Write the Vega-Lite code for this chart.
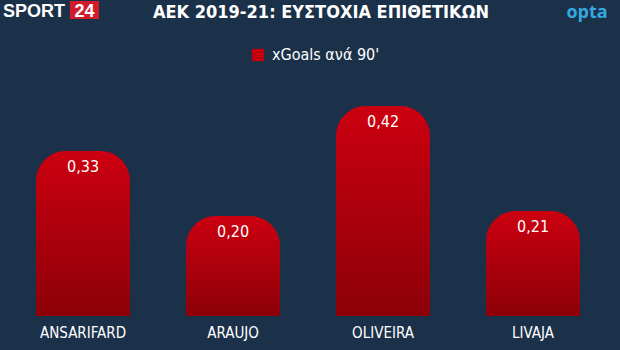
{
  "$schema": "https://vega.github.io/schema/vega-lite/v6.json",
  "width": 620,
  "height": 246,
  "autosize": {"type": "none"},
  "padding": {"left": 0, "right": 0, "top": 70, "bottom": 34},
  "background": "#1b3149",
  "title": {
    "text": "ΑΕΚ 2019-21: ΕΥΣΤΟΧΙΑ ΕΠΙΘΕΤΙΚΩΝ",
    "color": "#ffffff",
    "font": "Liberation Sans Narrow, DejaVu Sans Condensed, Roboto Condensed, sans-serif",
    "fontSize": 18,
    "fontWeight": "bold",
    "anchor": "middle",
    "dx": 11,
    "offset": 0,
    "dy": 21
  },
  "data": {
    "values": [
      {"player": "ANSARIFARD", "xg": 0.33, "label": "0,33"},
      {"player": "ARAUJO", "xg": 0.20, "label": "0,20"},
      {"player": "OLIVEIRA", "xg": 0.42, "label": "0,42"},
      {"player": "LIVAJA", "xg": 0.21, "label": "0,21"}
    ]
  },
  "encoding": {
    "x": {
      "field": "player",
      "type": "nominal",
      "sort": null,
      "scale": {"paddingInner": 0.3733, "paddingOuter": 0.2533, "align": 0.474},
      "axis": {
        "title": null,
        "domain": false,
        "ticks": false,
        "labelAngle": 0,
        "labelColor": "#ffffff",
        "labelFont": "Liberation Sans Narrow, DejaVu Sans Condensed, Roboto Condensed, sans-serif",
        "labelFontSize": 15,
        "labelPadding": 9
      }
    },
    "y": {
      "field": "xg",
      "type": "quantitative",
      "scale": {"domain": [0, 0.492], "nice": false},
      "axis": null
    }
  },
  "layer": [
    {
      "mark": {
        "type": "bar",
        "cornerRadiusTopLeft": 30,
        "cornerRadiusTopRight": 30,
        "color": {
          "gradient": "linear",
          "x1": 0, "y1": 0, "x2": 0, "y2": 1,
          "stops": [
            {"offset": 0, "color": "#cc0010"},
            {"offset": 1, "color": "#8c0008"}
          ]
        }
      }
    },
    {
      "mark": {"type": "bar", "opacity": 0},
      "encoding": {
        "color": {
          "datum": "xGoals ανά 90'",
          "scale": {"range": ["#c4000f"]},
          "legend": {
            "title": null,
            "orient": "none",
            "legendX": 250,
            "legendY": -23,
            "symbolType": "square",
            "symbolSize": 150,
            "symbolOpacity": 1,
            "symbolStrokeWidth": 0,
            "labelColor": "#ffffff",
            "labelFont": "Liberation Sans Narrow, DejaVu Sans Condensed, Roboto Condensed, sans-serif",
            "labelFontSize": 16,
            "labelOffset": 6
          }
        }
      }
    },
    {
      "mark": {
        "type": "text",
        "color": "#ffffff",
        "font": "Liberation Sans Narrow, DejaVu Sans Condensed, Roboto Condensed, sans-serif",
        "fontSize": 16,
        "baseline": "middle",
        "dy": 16
      },
      "encoding": {"text": {"field": "label"}}
    },
    {
      "data": {"values": [{"logo": "SPORT"}]},
      "mark": {
        "type": "text",
        "color": "#ffffff",
        "font": "Liberation Sans, Arial, sans-serif",
        "fontWeight": "bold",
        "fontSize": 18,
        "align": "left",
        "baseline": "alphabetic",
        "x": 3,
        "y": -53
      },
      "encoding": {"text": {"field": "logo"}, "x": null, "y": null}
    },
    {
      "data": {"values": [{"logo": "24"}]},
      "mark": {"type": "rect", "color": "#d11a2a", "x": 70, "x2": 99, "y": -69, "y2": -51},
      "encoding": {"x": null, "y": null}
    },
    {
      "data": {"values": [{"logo": "24"}]},
      "mark": {
        "type": "text",
        "color": "#ffffff",
        "font": "Liberation Sans, Arial, sans-serif",
        "fontWeight": "bold",
        "fontSize": 18,
        "align": "center",
        "baseline": "alphabetic",
        "x": 84.5,
        "y": -53
      },
      "encoding": {"text": {"field": "logo"}, "x": null, "y": null}
    },
    {
      "data": {"values": [{"logo": "opta"}]},
      "mark": {
        "type": "text",
        "color": "#35a8e0",
        "font": "Open Sans, sans-serif",
        "fontWeight": "bold",
        "fontSize": 18,
        "align": "center",
        "baseline": "alphabetic",
        "x": 587,
        "y": -52
      },
      "encoding": {"text": {"field": "logo"}, "x": null, "y": null}
    }
  ],
  "config": {
    "view": {"stroke": null},
    "axis": {"grid": false}
  }
}
